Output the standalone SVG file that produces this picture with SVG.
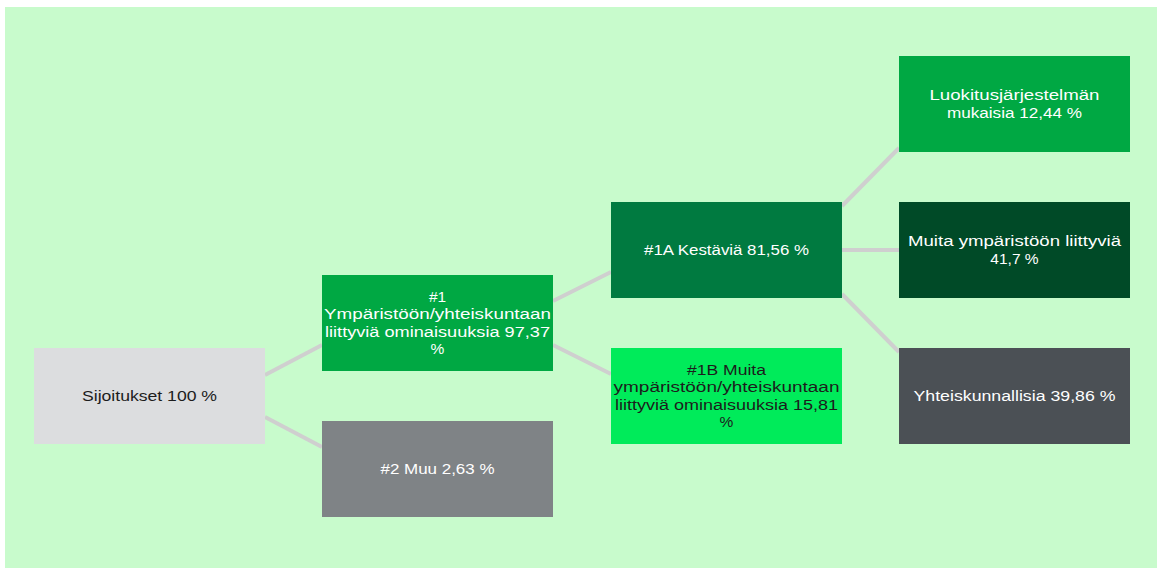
<svg xmlns="http://www.w3.org/2000/svg" width="1157" height="568" viewBox="0 0 1157 568">
<style>
text{font-family:"Liberation Sans",Arial,sans-serif;font-size:15.5px;text-anchor:middle}
.w{fill:#ffffff}
.d{fill:#1c1c1c}
.c line{stroke:#cfcfcf;stroke-width:4}
</style>
<rect x="0" y="0" width="1157" height="568" fill="#ffffff"/>
<rect x="5" y="7" width="1152" height="561" fill="#c8fbcc"/>
<g class="c" id="connectors">
<line x1="265" y1="375" x2="322" y2="345"/>
<line x1="265" y1="417" x2="322" y2="447"/>
<line x1="553" y1="301" x2="611" y2="272"/>
<line x1="553" y1="345" x2="611" y2="374"/>
<line x1="842" y1="206" x2="899" y2="148"/>
<line x1="842" y1="250" x2="899" y2="250"/>
<line x1="842" y1="294" x2="899" y2="352"/>
</g>
<g id="n-sijoitukset">
<rect x="34" y="348" width="231" height="96" fill="#dcdddf"/>
<text class="d" x="149.5" y="401" textLength="135" lengthAdjust="spacingAndGlyphs">Sijoitukset 100 %</text>
</g>
<g id="n-1">
<rect x="322" y="275" width="231" height="96" fill="#00a843"/>
<text class="w" x="437.5" y="301.5"><tspan x="437.5">#1</tspan><tspan x="437.5" dy="17.5" textLength="227" lengthAdjust="spacingAndGlyphs">Ympäristöön/yhteiskuntaan</tspan><tspan x="437.5" dy="17.5" textLength="225" lengthAdjust="spacingAndGlyphs">liittyviä ominaisuuksia 97,37</tspan><tspan x="437.5" dy="17.5">%</tspan></text>
</g>
<g id="n-2">
<rect x="322" y="421" width="231" height="96" fill="#7f8386"/>
<text class="w" x="437.5" y="474" textLength="114" lengthAdjust="spacingAndGlyphs">#2 Muu 2,63 %</text>
</g>
<g id="n-1a">
<rect x="611" y="202" width="231" height="96" fill="#007a40"/>
<text class="w" x="726.5" y="255" textLength="165" lengthAdjust="spacingAndGlyphs">#1A Kestäviä 81,56 %</text>
</g>
<g id="n-1b">
<rect x="611" y="348" width="231" height="96" fill="#00eb5a"/>
<text class="d" x="726.5" y="374.5"><tspan x="726.5" textLength="79" lengthAdjust="spacingAndGlyphs">#1B Muita</tspan><tspan x="726.5" dy="17.5" textLength="226" lengthAdjust="spacingAndGlyphs">ympäristöön/yhteiskuntaan</tspan><tspan x="726.5" dy="17.5" textLength="223" lengthAdjust="spacingAndGlyphs">liittyviä ominaisuuksia 15,81</tspan><tspan x="726.5" dy="17.5">%</tspan></text>
</g>
<g id="n-luokitus">
<rect x="899" y="56" width="231" height="96" fill="#00a843"/>
<text class="w" x="1014.5" y="100"><tspan x="1014.5" textLength="170" lengthAdjust="spacingAndGlyphs">Luokitusjärjestelmän</tspan><tspan x="1014.5" dy="17.5" textLength="135" lengthAdjust="spacingAndGlyphs">mukaisia 12,44 %</tspan></text>
</g>
<g id="n-muita">
<rect x="899" y="202" width="231" height="96" fill="#004a27"/>
<text class="w" x="1014.5" y="246"><tspan x="1014.5" textLength="213" lengthAdjust="spacingAndGlyphs">Muita ympäristöön liittyviä</tspan><tspan x="1014.5" dy="17.5">41,7 %</tspan></text>
</g>
<g id="n-yhteis">
<rect x="899" y="348" width="231" height="96" fill="#4b5055"/>
<text class="w" x="1014.5" y="401" textLength="202" lengthAdjust="spacingAndGlyphs">Yhteiskunnallisia 39,86 %</text>
</g>
</svg>
